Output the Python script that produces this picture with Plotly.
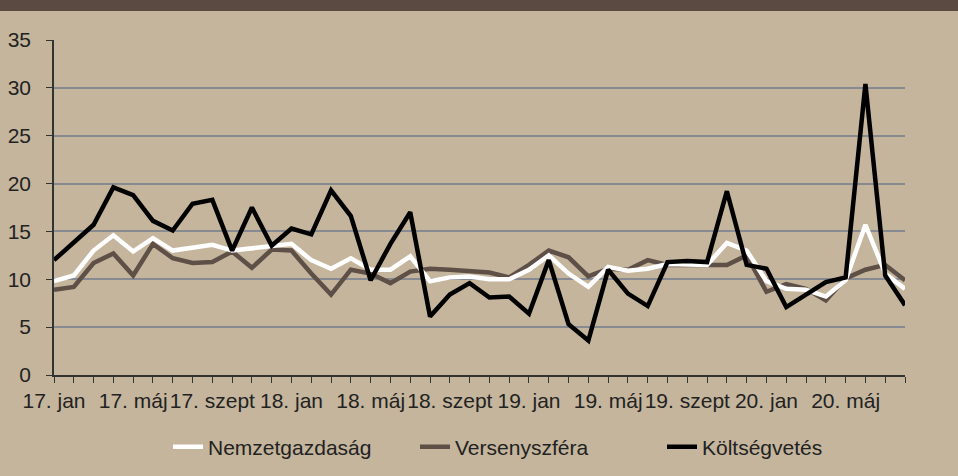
import plotly.graph_objects as go

tick_labels = ["17. jan", "17. máj", "17. szept", "18. jan", "18. máj", "18. szept",
               "19. jan", "19. máj", "19. szept", "20. jan", "20. máj"]

nemzetgazdasag = [9.8, 10.4, 13.0, 14.6, 12.9, 14.3, 13.0, 13.3, 13.6, 13.0, 13.2, 13.5,
                  13.7, 12.0, 11.1, 12.2, 11.0, 11.0, 12.4, 9.8, 10.2, 10.3, 10.0, 10.0,
                  11.0, 12.5, 10.6, 9.2, 11.3, 10.9, 11.1, 11.6, 11.5, 11.5, 13.8, 13.0,
                  9.8, 9.0, 8.9, 8.2, 9.9, 15.7, 10.6, 9.0]

versenyszfera = [8.9, 9.2, 11.7, 12.7, 10.4, 13.7, 12.2, 11.7, 11.8, 12.9, 11.2, 13.1,
                 13.0, 10.6, 8.4, 11.0, 10.6, 9.6, 10.8, 11.1, 11.0, 10.9, 10.7, 10.2,
                 11.5, 13.0, 12.3, 10.3, 11.1, 11.0, 12.0, 11.5, 11.5, 11.4, 11.5, 12.5,
                 8.7, 9.5, 9.0, 7.8, 10.1, 11.0, 11.5, 9.9]

koltsegvetes = [12.0, 13.8, 15.7, 19.6, 18.8, 16.1, 15.1, 17.9, 18.3, 13.0, 17.5, 13.5,
                15.3, 14.7, 19.3, 16.6, 9.9, 13.7, 17.0, 6.1, 8.4, 9.6, 8.1, 8.2,
                6.4, 12.0, 5.3, 3.6, 11.0, 8.5, 7.2, 11.8, 11.9, 11.8, 19.2, 11.5,
                11.1, 7.1, 8.4, 9.7, 10.2, 30.4, 10.4, 7.3]

x = list(range(len(koltsegvetes)))
tick_vals = [i * 4 for i in range(len(tick_labels))]

BG = "#C4B59C"
FONT = "Liberation Sans, Arial, sans-serif"
FS = 21

fig = go.Figure()
fig.add_trace(go.Scatter(x=x, y=versenyszfera, mode="lines", name="Versenyszféra",
                         line=dict(color="#5E4F47", width=4.5), legendrank=2))
fig.add_trace(go.Scatter(x=x, y=nemzetgazdasag, mode="lines", name="Nemzetgazdaság",
                         line=dict(color="#FFFFFF", width=4.5), legendrank=1))
fig.add_trace(go.Scatter(x=x, y=koltsegvetes, mode="lines", name="Költségvetés",
                         line=dict(color="#000000", width=4.5), legendrank=3))

# dark band at top
fig.add_shape(type="rect", xref="paper", yref="paper",
              x0=-0.1, x1=1.1, y0=1 + 29 / 335, y1=1 + 40 / 335 + 0.01,
              fillcolor="#5A4A42", line=dict(width=0), layer="above")

fig.update_layout(
    width=958, height=476,
    paper_bgcolor=BG, plot_bgcolor=BG,
    margin=dict(l=54, r=53, t=40, b=101, pad=0, autoexpand=False),
    font=dict(family=FONT, size=FS, color="#222222"),
    showlegend=True,
    legend=dict(orientation="h", x=(168 - 54) / 851, xanchor="left", y=-0.215,
                yanchor="middle", bgcolor="rgba(0,0,0,0)",
                font=dict(size=FS, color="#222222"),
                entrywidth=202, entrywidthmode="pixels", traceorder="normal"),
    xaxis=dict(range=[0, 43], tickmode="array", tickvals=tick_vals, ticktext=tick_labels,
               automargin=False,
               showgrid=False, zeroline=False, showline=True, linecolor="#333333",
               linewidth=1.5, ticks="outside", ticklen=6, tickcolor="#333333",
               tickwidth=1.2,
               minor=dict(ticks="outside", dtick=1, tick0=0, ticklen=6,
                          tickcolor="#333333", tickwidth=1.2, showgrid=False),
               tickfont=dict(size=FS, color="#222222")),
    yaxis=dict(range=[0, 35], dtick=5, tick0=0, showgrid=True, gridcolor="#878A90",
               automargin=False,
               gridwidth=2.2, zeroline=False, showline=True, linecolor="#333333",
               linewidth=1.5, ticks="outside", ticklen=6, tickcolor="#333333",
               tickwidth=1.2, ticklabelstandoff=11,
               tickfont=dict(size=FS, color="#222222")),
)

fig.write_html("out.html",
               config={"displayModeBar": False},
               post_script="document.body.style.margin='0';"
                           "document.body.style.background='#C4B59C';")
